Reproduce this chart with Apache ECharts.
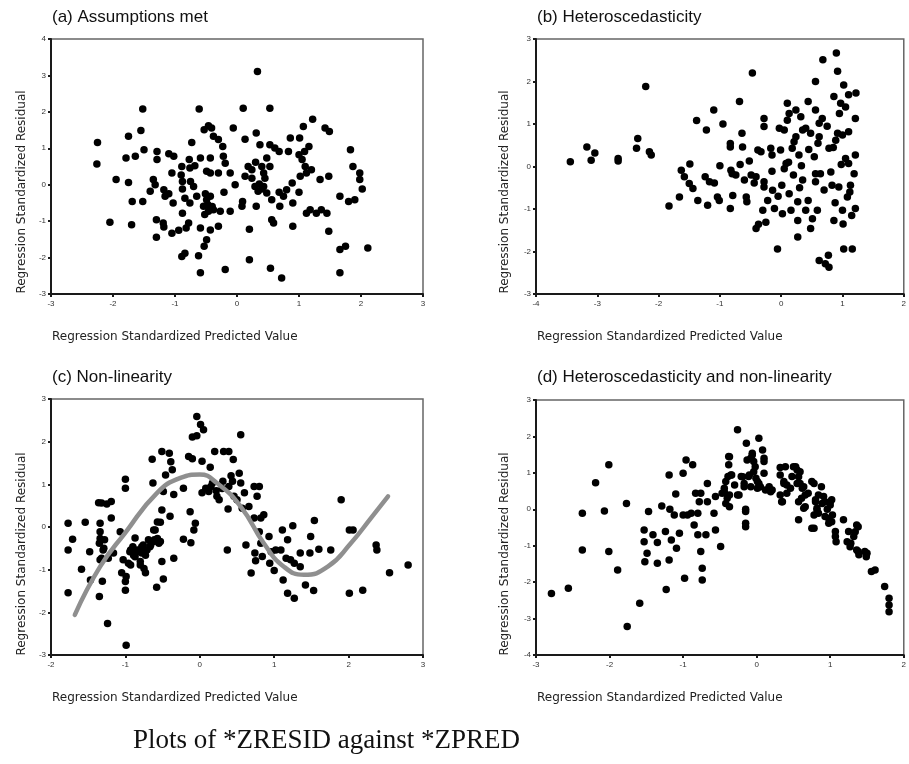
<!DOCTYPE html>
<html>
<head>
<meta charset="utf-8">
<script src="https://cdn.jsdelivr.net/npm/echarts@6/dist/echarts.min.js"></script>
<style>html,body{margin:0;padding:0;background:#fff}#c{width:909px;height:764px}</style>
</head>
<body>
<div id="c"></div>
<script>
// ---------- titles / labels ----------
var panelTitles = ['(a) Assumptions met', '(b) Heteroscedasticity', '(c) Non-linearity', '(d) Heteroscedasticity and non-linearity'];
var xAxisName = 'Regression Standardized Predicted Value';
var yAxisName = 'Regression Standardized Residual';
var caption = 'Plots of *ZRESID against *ZPRED';

// ---------- axis ranges [min, max] ----------
var xRangeA = [-3, 3], yRangeA = [-3, 4];
var xRangeB = [-4, 2], yRangeB = [-3, 3];
var xRangeC = [-2, 3], yRangeC = [-3, 3];
var xRangeD = [-3, 2], yRangeD = [-4, 3];

// ---------- (a) Assumptions met ----------
var pointsA = [
[-2.26,0.57],[-2.25,1.16],[-1.95,0.14],[-2.05,-1.03],[-1.75,1.33],[-1.79,0.73],[-1.64,0.78],[-1.75,0.06],[-1.69,-0.46],[-1.70,-1.10],
[-1.52,2.08],[-1.55,1.49],[-1.50,0.96],[-1.52,-0.46],[-1.35,0.14],[-1.40,-0.18],[-1.32,0.0],[-1.29,0.91],[-1.29,0.69],[-1.30,-0.96],
[-1.30,-1.44],[-1.19,-1.05],[-1.18,-0.14],[-1.16,-0.32],[-1.18,-1.16],[-1.10,0.85],[-1.02,0.78],[-1.05,0.32],[-1.03,-0.50],[-1.05,-1.33],
[-0.89,0.50],[-0.90,0.27],[-0.88,0.09],[-0.88,-0.12],[-0.84,-0.37],[-0.88,-0.78],[-0.89,-1.97],[-0.84,-1.88],[-0.82,-1.19],[-0.77,0.69],
[-0.76,0.46],[-0.73,1.16],[-0.75,0.09],[-0.70,-0.05],[-0.76,-0.50],[-0.78,-1.05],[-0.65,-0.32],[-0.62,-1.95],[-0.59,-1.19],[-0.59,0.73],
[-0.61,2.08],[-0.59,-2.42],[-0.54,-0.59],[-0.53,1.51],[-0.46,1.62],[-0.41,1.56],[-0.49,0.37],[-0.43,0.32],[-0.43,0.73],[-0.49,-0.41],
[-0.46,-0.73],[-0.52,-0.82],[-0.43,-0.32],[-0.43,-1.24],[-0.49,-1.51],[-0.53,-1.69],[-0.38,1.33],[-0.30,1.24],[-0.23,1.05],[-0.22,0.78],
[-0.19,0.59],[-0.30,0.32],[-0.38,-0.69],[-0.27,-0.73],[-0.30,-1.14],[-0.21,-0.21],[-0.19,-2.33],[-0.11,-0.73],[-0.11,0.32],[-0.06,1.56],
[-0.03,0.0],[0.09,-0.46],[0.10,2.10],[0.13,1.25],[0.13,0.23],[0.08,-0.59],[0.20,-1.22],[0.20,-2.06],[0.18,0.50],[0.24,0.41],
[0.24,0.18],[0.31,1.42],[0.33,3.11],[0.29,-0.05],[0.34,-0.18],[0.31,-0.59],[0.37,1.10],[0.40,0.50],[0.43,0.32],[0.43,-0.05],
[0.48,0.73],[0.48,-0.23],[0.53,2.10],[0.53,1.10],[0.53,0.50],[0.56,-0.96],[0.54,-2.29],[0.59,-1.05],[0.61,1.01],[0.56,-0.41],
[0.68,0.91],[0.69,-0.59],[0.72,-2.56],[0.68,-0.21],[0.75,-0.32],[0.80,-0.14],[0.83,0.91],[0.86,1.28],[0.89,0.05],[0.90,-0.50],
[0.90,-1.14],[1.00,0.82],[1.01,1.28],[1.00,-0.21],[1.02,0.23],[1.05,0.69],[1.07,1.60],[1.09,0.91],[1.10,0.50],[1.12,0.32],
[1.16,1.05],[1.12,-0.78],[1.18,-0.69],[1.20,0.41],[1.22,1.80],[1.28,-0.78],[1.36,-0.69],[1.34,0.14],[1.48,0.23],[1.45,-0.78],
[1.48,-1.28],[1.42,1.56],[1.49,1.46],[1.66,-0.32],[1.66,-1.78],[1.75,-1.69],[1.66,-2.42],[1.80,-0.46],[1.90,-0.41],[1.83,0.96],
[1.87,0.50],[1.98,0.32],[1.98,0.14],[2.02,-0.12],[2.11,-1.74],
[-0.47,-0.55],[-0.40,-0.60],[-0.51,-0.25],[0.36,0.02],[0.45,0.18],[0.40,-0.12],[0.30,0.62],[-0.68,0.52],[-1.10,-0.25],[-0.94,-1.25]
];

// ---------- (b) Heteroscedasticity ----------
var pointsB = [
[-3.44,0.11],[-3.17,0.46],[-3.10,0.15],[-3.04,0.32],[-2.66,0.19],[-2.66,0.13],[-2.36,0.43],[-2.34,0.66],[-2.21,1.88],[-2.15,0.35],
[-2.12,0.27],[-1.83,-0.93],[-1.66,-0.72],[-1.63,-0.09],[-1.58,-0.24],[-1.49,0.06],[-1.50,-0.40],[-1.44,-0.52],[-1.38,1.08],[-1.36,-0.80],
[-1.22,0.86],[-1.24,-0.24],[-1.20,-0.91],[-1.17,-0.36],[-1.09,-0.39],[-1.10,1.33],[-1.04,-0.72],[-1.01,-0.80],[-1.00,0.02],[-0.95,1.00],
[-0.83,0.54],[-0.83,0.46],[-0.82,-0.09],[-0.80,-0.17],[-0.79,-0.68],[-0.83,-0.99],[-0.74,-0.20],[-0.68,1.53],[-0.67,0.05],[-0.64,0.78],
[-0.63,0.46],[-0.60,-0.32],[-0.57,-0.72],[-0.56,-0.83],[-0.52,0.13],[-0.49,-0.20],[-0.47,2.20],[-0.44,-0.39],[-0.41,-0.24],[-0.41,-1.46],
[-0.38,0.39],[-0.37,-1.36],[-0.33,0.35],[-0.30,-1.03],[-0.28,1.13],[-0.28,0.94],[-0.28,-0.36],[-0.28,-0.48],[-0.25,-1.31],[-0.22,-0.80],
[-0.17,0.43],[-0.15,0.27],[-0.15,-0.11],[-0.14,-0.56],[-0.11,-0.99],[-0.06,-1.94],[-0.03,0.90],[-0.01,0.39],[0.01,-0.44],[0.02,-1.11],
[0.05,0.86],[0.08,0.07],[0.10,1.49],[0.10,1.09],[0.13,1.25],[0.13,-0.64],[0.16,-1.03],[0.18,0.43],[0.21,0.58],[0.24,1.33],
[0.24,0.70],[0.27,-0.83],[0.27,-1.27],[0.27,-1.66],[0.29,0.27],[0.32,1.17],[0.35,0.86],[0.35,-0.32],[0.40,0.90],[0.40,-1.03],
[0.44,1.53],[0.44,-0.80],[0.48,-1.46],[0.48,0.78],[0.51,-1.23],[0.54,0.23],[0.56,2.00],[0.56,1.33],[0.56,-0.17],[0.56,-0.36],
[0.59,-1.03],[0.62,1.02],[0.62,0.70],[0.62,-2.21],[0.64,-0.17],[0.67,1.13],[0.68,2.51],[0.72,-2.29],[0.77,-2.09],[0.78,-2.37],
[0.78,0.43],[0.81,-0.13],[0.83,-0.44],[0.86,1.65],[0.86,-1.27],[0.89,0.62],[0.90,2.67],[0.92,2.24],[0.92,0.78],[0.94,-0.48],
[0.95,1.25],[0.97,1.49],[1.00,0.74],[1.00,-1.03],[1.01,-1.35],[1.02,-1.94],[1.02,1.92],[1.05,0.19],[1.08,-0.72],[1.10,0.82],
[1.10,0.07],[1.13,-0.44],[1.15,-1.15],[1.16,-1.94],[1.19,-0.17],[1.10,1.69],[1.21,-0.99],[1.22,1.73],[1.21,1.13],[1.21,0.27],
[0.05,-0.05],[0.12,0.10],[0.20,-0.20],[0.33,0.02],[0.45,0.40],[0.60,0.55],[0.70,-0.55],[0.85,0.45],[0.98,0.05],[1.12,-0.60],
[0.75,0.95],[0.30,-0.50],[-0.05,-0.70],[1.05,1.40],[0.88,-0.85]
];

// ---------- (c) Non-linearity ----------
var pointsC = [
[-1.77,0.09],[-1.77,-0.54],[-1.77,-1.54],[-1.71,-0.29],[-1.59,-0.99],[-1.54,0.11],[-1.48,-0.58],[-1.47,-1.24],[-1.36,0.57],[-1.34,0.09],
[-1.32,0.56],[-1.34,-0.11],[-1.35,-0.38],[-1.34,-0.77],[-1.35,-1.63],[-1.31,-1.27],[-1.30,-0.54],[-1.28,-0.30],[-1.25,0.54],[-1.19,0.60],
[-1.24,-2.26],[-1.19,0.21],[-1.16,-0.61],[-1.07,-0.11],[-1.03,-0.77],[-1.00,1.12],[-1.00,0.91],[-1.00,-1.48],[-0.99,-2.77],[-1.05,-1.07],
[-0.99,-1.16],[-0.96,-0.85],[-0.94,-0.58],[-0.90,-0.46],[-0.87,-0.26],[-0.87,-0.70],[-0.84,-0.54],[-0.80,-0.89],[-0.78,-0.61],[-0.76,-0.42],
[-0.73,-1.07],[-0.71,-0.54],[-0.69,-0.30],[-0.67,-0.46],[-0.64,1.59],[-0.63,1.03],[-0.61,-0.30],[-0.60,-0.07],[-0.58,-1.41],[-0.55,-0.38],
[-0.53,0.11],[-0.51,1.77],[-0.51,0.40],[-0.51,-0.81],[-0.49,-1.22],[-0.49,0.83],[-0.46,1.22],[-0.41,1.73],[-0.40,0.25],[-0.39,1.53],
[-0.37,1.34],[-0.35,-0.73],[-0.35,0.76],[-0.22,0.91],[-0.22,-0.29],[-0.15,1.65],[-0.13,0.36],[-0.12,-0.37],[-0.10,2.11],[-0.08,-0.07],
[-0.06,0.09],[-0.04,2.59],[-0.04,2.14],[0.01,2.40],[0.03,0.80],[0.05,2.28],[0.03,1.54],[0.08,0.91],[0.12,0.83],[0.14,1.40],
[0.17,1.03],[0.20,1.77],[0.23,0.72],[0.26,0.64],[0.31,1.07],[0.32,1.77],[0.37,-0.54],[0.38,0.42],[0.39,1.77],[0.39,0.95],
[0.44,1.07],[0.45,1.58],[0.46,0.72],[0.50,0.64],[0.55,2.16],[0.53,1.26],[0.55,1.03],[0.57,0.44],[0.62,-0.42],[0.66,0.48],
[0.69,-1.08],[0.73,0.95],[0.73,0.21],[0.74,-0.61],[0.75,-0.79],[0.77,0.72],[0.80,0.95],[0.82,0.21],[0.80,-0.11],[0.82,-0.38],
[0.84,-0.69],[0.86,0.29],[0.93,-0.22],[0.94,-0.85],[0.96,-0.58],[1.00,-1.02],[1.02,-0.54],[1.09,-0.54],[1.11,-0.07],[1.12,-1.24],
[1.16,-0.73],[1.18,-1.55],[1.18,-0.30],[1.22,-0.77],[1.25,0.03],[1.27,-1.67],[1.27,-0.85],[1.35,-0.61],[1.35,-0.93],[1.42,-1.36],
[1.48,-0.61],[1.49,-0.22],[1.53,-1.49],[1.54,0.15],[1.60,-0.52],[1.76,-0.54],[1.90,0.64],[2.01,-0.07],[2.06,-0.07],[2.01,-1.55],
[2.19,-1.48],[2.37,-0.42],[2.38,-0.54],[2.55,-1.07],[2.80,-0.89],
[-0.93,-0.54],[-0.89,-0.66],[-0.82,-0.58],[-0.78,-0.46],[-0.73,-0.66],[-0.66,-0.42],[-0.62,-0.34],[-0.57,-0.27],[-0.53,-0.34],[-0.80,-0.81],
[-0.75,-0.97],[-0.93,-0.89],[-1.00,-1.28],[-1.34,-0.27],[-1.29,-0.50],[-1.32,-0.73],[-1.23,-0.73],[-0.62,-0.07],[-0.57,0.12],[0.15,0.95],
[0.22,0.85],[0.30,0.90],[0.42,1.20],[0.60,0.80],[-0.10,1.60]
];
// fitted curve drawn over (c)
var curveC = [
[-1.68,-2.06],[-1.34,-0.93],[-1.00,-0.13],[-0.58,0.79],[-0.26,1.15],[0.00,1.23],[0.23,1.03],[0.55,0.48],[0.86,-0.38],
[1.13,-0.93],[1.40,-1.12],[1.72,-0.93],[2.03,-0.38],[2.30,0.21],[2.53,0.72]
];

// ---------- (d) Heteroscedasticity and non-linearity ----------
var pointsD = [
[-2.79,-2.31],[-2.56,-2.17],[-2.37,-0.11],[-2.37,-1.12],[-2.19,0.73],[-2.07,-0.05],[-2.01,1.22],[-2.01,-1.16],[-1.89,-1.67],[-1.77,0.16],
[-1.76,-3.22],[-1.59,-2.58],[-1.53,-0.57],[-1.53,-0.89],[-1.52,-1.44],[-1.49,-1.21],[-1.47,-0.06],[-1.41,-0.70],[-1.35,-0.91],[-1.35,-1.48],
[-1.29,0.09],[-1.24,-0.61],[-1.23,-2.20],[-1.19,0.94],[-1.18,0.00],[-1.19,-1.39],[-1.16,-0.84],[-1.12,-0.16],[-1.10,0.42],[-1.09,-1.07],
[-1.05,-0.66],[-1.00,0.99],[-1.00,-0.16],[-0.98,-1.89],[-0.96,1.35],[-0.94,-0.16],[-0.89,-0.11],[-0.87,1.22],[-0.85,-0.43],[-0.83,0.44],
[-0.80,-0.11],[-0.80,-0.70],[-0.78,0.21],[-0.76,0.44],[-0.76,-1.16],[-0.74,-1.62],[-0.74,-1.94],[-0.69,-0.70],[-0.67,0.21],[-0.67,0.71],
[-0.58,-0.11],[-0.56,-0.57],[-0.56,0.35],[-0.49,-1.02],[-0.47,0.44],[-0.44,0.58],[-0.42,0.16],[-0.39,0.90],[-0.38,1.45],[-0.38,1.22],
[-0.37,0.39],[-0.34,0.94],[-0.30,0.67],[-0.26,2.18],[-0.24,0.39],[-0.21,0.90],[-0.17,0.62],[-0.15,-0.06],[-0.15,-0.38],[-0.14,1.81],
[-0.13,1.35],[-0.11,0.90],[-0.08,0.62],[-0.06,1.49],[-0.04,1.03],[-0.02,1.17],[0.01,0.76],[0.03,1.95],[0.05,0.62],[0.08,1.63],
[0.10,1.31],[0.12,0.53],[0.17,0.62],[0.21,0.53],[0.32,1.15],[0.34,0.21],[0.37,0.71],[0.39,1.17],[0.41,0.44],[0.46,0.58],
[0.48,0.90],[0.53,1.17],[0.55,0.71],[0.57,-0.29],[0.59,1.03],[0.61,0.30],[0.64,0.62],[0.66,0.07],[0.70,0.44],[0.75,0.76],
[0.75,-0.52],[0.80,0.26],[0.82,-0.02],[0.84,-0.11],[0.88,0.62],[0.89,0.16],[0.91,0.35],[0.93,-0.20],[0.98,-0.38],[1.00,0.12],
[1.02,0.26],[1.03,-0.16],[1.07,-0.61],[1.08,-0.89],[1.18,-0.29],[1.25,-0.61],[1.28,-0.93],[1.32,-0.75],[1.36,-0.43],[1.36,-1.12],
[1.39,-1.25],[1.50,-1.21],[1.56,-1.71],[1.61,-1.67],[1.74,-2.12],[1.80,-2.44],[1.80,-2.63],[1.80,-2.81],
[0.10,1.40],[0.10,0.99],[-0.06,1.54],[-0.08,1.40],[-0.04,1.31],[-0.37,1.44],[-0.35,0.94],[-0.42,0.76],[-0.44,0.48],[-0.40,0.30],
[-0.37,0.07],[-0.19,0.89],[-0.17,0.71],[-0.10,0.94],[-0.01,0.85],[0.03,0.71],[0.01,0.58],[0.19,0.48],[-0.26,0.39],[-0.15,0.0],
[-0.15,-0.48],[0.32,0.94],[0.37,0.76],[0.41,0.67],[0.32,0.39],[0.35,0.21],[0.50,1.17],[0.55,1.08],[0.57,0.89],[0.59,0.71],
[0.62,0.58],[0.66,0.39],[0.57,0.21],[0.64,0.03],[0.78,0.71],[0.84,0.39],[0.80,0.21],[0.82,0.03],[0.78,-0.16],[0.78,-0.52],
[0.93,0.21],[0.96,0.0],[0.98,-0.25],[1.02,-0.34],[1.00,0.21],[1.07,-0.75],[1.23,-0.89],[1.27,-1.03],[1.34,-0.62],[1.38,-0.48],
[1.38,-1.16],[1.47,-1.16],[1.49,-1.30]
];

// ---------- layout ----------
var grids = [
  {left: 51,  top: 39,  width: 372, height: 255},
  {left: 536, top: 39,  width: 370, height: 255},
  {left: 51,  top: 399, width: 372, height: 256},
  {left: 536, top: 400, width: 370, height: 255}
];
var xRanges = [xRangeA, xRangeB, xRangeC, xRangeD];
var yRanges = [yRangeA, yRangeB, yRangeC, yRangeD];
var pointSets = [pointsA, pointsB, pointsC, pointsD];

var AX = '#1a1a1a';
function makeAxis(range, isX, gi) {
  return {
    type: 'value', gridIndex: gi, min: range[0], max: range[1], interval: 1,
    axisLine: {show: true, onZero: false, lineStyle: {color: AX, width: 2}},
    axisTick: {show: true, length: 3, lineStyle: {color: AX, width: 2}},
    splitLine: {show: false},
    axisLabel: {show: true, fontSize: 8, color: '#333', fontFamily: 'Liberation Sans', margin: isX ? 6 : 5,
      formatter: function (v) { return String(v); }}
  };
}

var option = {
  backgroundColor: '#fff',
  animation: false,
  title: panelTitles.map(function (t, i) {
    return {text: t, left: grids[i].left + 1, top: (i < 2 ? 9 : 369), padding: 0,
      textStyle: {fontSize: 17, fontWeight: 'normal', color: '#111', fontFamily: 'Liberation Sans'}};
  }).concat([{text: caption, left: 133, top: 727, padding: 0,
      textStyle: {fontSize: 27, fontWeight: 'normal', color: '#111', fontFamily: 'Liberation Serif'}}]),
  grid: grids.map(function (g) {
    return {left: g.left, top: g.top, width: g.width, height: g.height, show: true,
      borderColor: '#666', borderWidth: 1.5, backgroundColor: 'transparent'};
  }),
  xAxis: xRanges.map(function (r, i) { return makeAxis(r, true, i); }),
  yAxis: yRanges.map(function (r, i) { return makeAxis(r, false, i); }),
  series: pointSets.map(function (pts, i) {
    return {type: 'scatter', xAxisIndex: i, yAxisIndex: i, data: pts, symbol: 'circle', symbolSize: 7.5,
      itemStyle: {color: '#000', opacity: 1}, z: 3};
  }).concat([{type: 'line', xAxisIndex: 2, yAxisIndex: 2, data: curveC, smooth: 0.5, showSymbol: false,
      lineStyle: {color: '#8f8f8f', width: 4.5, cap: 'round'}, z: 4}]),
  graphic: []
};

// axis names as rotated / positioned text
grids.forEach(function (g, i) {
  option.graphic.push({type: 'text', left: g.left + 1, top: (i < 2 ? 331 : 692),
    style: {text: xAxisName, fontSize: 12, fontFamily: 'DejaVu Sans', fill: '#222'}});
  option.graphic.push({type: 'text', x: (i % 2 === 0 ? 22 : 505), y: (i < 2 ? 192 : 554), rotation: Math.PI / 2,
    style: {text: yAxisName, fontSize: 12, fontFamily: 'DejaVu Sans', fill: '#222', align: 'center', verticalAlign: 'middle'}});
});

var chart = echarts.init(document.getElementById('c'), null, {renderer: 'canvas'});
chart.setOption(option);
</script>
</body>
</html>
